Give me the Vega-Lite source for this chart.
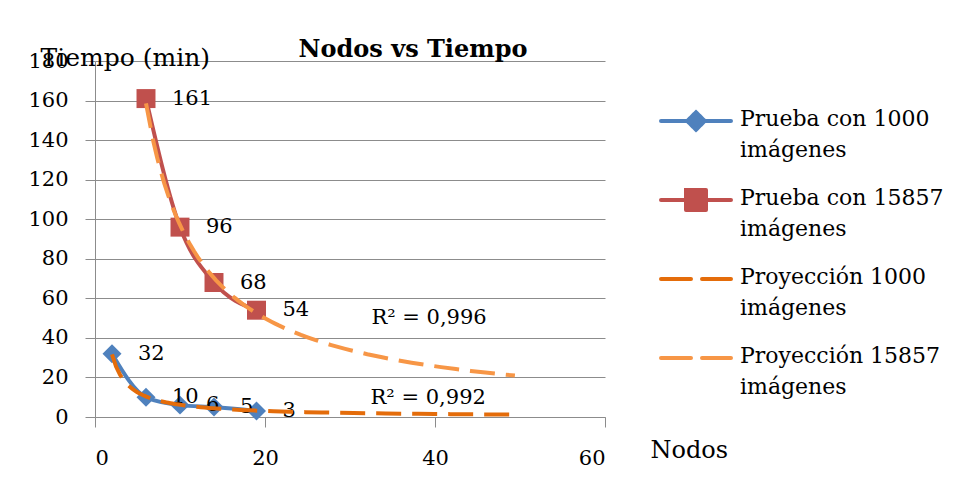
{
  "$schema": "https://vega.github.io/schema/vega-lite/v6.json",
  "width": 510,
  "height": 356,
  "autosize": {"type": "none"},
  "padding": {"left": 95, "top": 61, "right": 351, "bottom": 64},
  "background": "white",
  "config": {"view": {"stroke": null}},
  "title": {"text": "Nodos vs Tiempo", "font": "DejaVu Serif", "fontSize": 24, "fontWeight": "bold", "color": "#000000", "anchor": "middle", "frame": "group", "dx": 63, "baseline": "bottom", "offset": -41},
  "datasets": {
    "pruebas": [
      {"serie": "Prueba con 1000 imágenes", "proy": "Proyección 1000 imágenes", "nodos": 2, "tiempo": 32},
      {"serie": "Prueba con 1000 imágenes", "proy": "Proyección 1000 imágenes", "nodos": 6, "tiempo": 10},
      {"serie": "Prueba con 1000 imágenes", "proy": "Proyección 1000 imágenes", "nodos": 10, "tiempo": 6},
      {"serie": "Prueba con 1000 imágenes", "proy": "Proyección 1000 imágenes", "nodos": 14, "tiempo": 5},
      {"serie": "Prueba con 1000 imágenes", "proy": "Proyección 1000 imágenes", "nodos": 19, "tiempo": 3},
      {"serie": "Prueba con 15857 imágenes", "proy": "Proyección 15857 imágenes", "nodos": 6, "tiempo": 161},
      {"serie": "Prueba con 15857 imágenes", "proy": "Proyección 15857 imágenes", "nodos": 10, "tiempo": 96},
      {"serie": "Prueba con 15857 imágenes", "proy": "Proyección 15857 imágenes", "nodos": 14, "tiempo": 68},
      {"serie": "Prueba con 15857 imágenes", "proy": "Proyección 15857 imágenes", "nodos": 19, "tiempo": 54}
    ],
    "r2": [
      {"nodos": 39.3, "tiempo": 50, "texto": "R² = 0,996"},
      {"nodos": 39.2, "tiempo": 9.6, "texto": "R² = 0,992"}
    ]
  },
  "encoding": {
    "x": {"field": "nodos", "type": "quantitative",
      "scale": {"domain": [0, 60], "nice": false, "zero": false},
      "axis": {"values": [0, 20, 40, 60], "grid": false, "domainColor": "#8c8c8c", "tickColor": "#8c8c8c", "tickSize": 10, "labelPadding": 20, "labelOverlap": false,
        "labelFont": "DejaVu Serif", "labelFontSize": 21, "labelColor": "#000000",
        "title": "Nodos", "titleFont": "DejaVu Serif", "titleFontSize": 24, "titleFontWeight": "normal", "titleColor": "#000000",
        "titleAlign": "left", "titleBaseline": "middle", "titleX": 555, "titleY": 33}},
    "y": {"field": "tiempo", "type": "quantitative",
      "scale": {"domain": [0, 180], "nice": false},
      "axis": {"values": [0, 20, 40, 60, 80, 100, 120, 140, 160, 180], "grid": true, "gridColor": "#8c8c8c", "domainColor": "#8c8c8c", "tickColor": "#8c8c8c", "tickSize": 10, "labelPadding": 17, "labelOverlap": false, "labelFlush": false,
        "labelFont": "DejaVu Serif", "labelFontSize": 21, "labelColor": "#000000",
        "title": "Tiempo (min)", "titleFont": "DejaVu Serif", "titleFontSize": 25, "titleFontWeight": "normal", "titleColor": "#000000",
        "titleAngle": 0, "titleAlign": "left", "titleBaseline": "middle", "titleX": -55, "titleY": -4}}
  },
  "layer": [
    {
      "data": {"name": "pruebas"},
      "mark": {"type": "line", "interpolate": "monotone", "strokeWidth": 4, "strokeCap": "round"},
      "encoding": {
        "color": {"field": "serie", "type": "nominal",
          "scale": {"domain": ["Prueba con 1000 imágenes", "Prueba con 15857 imágenes", "Proyección 1000 imágenes", "Proyección 15857 imágenes"],
                    "range": ["#4F81BD", "#C0504D", "#E46C0A", "#F79646"]},
          "legend": {"title": null, "orient": "none", "legendX": 574, "legendY": 33, "direction": "vertical",
            "symbolSize": 2500, "symbolStrokeWidth": 4, "labelFont": "DejaVu Serif", "labelFontSize": 22, "labelColor": "#000000",
            "labelOffset": 17, "rowPadding": 12, "labelBaseline": "top", "labelLimit": 300,
            "labelExpr": "[replace(datum.label, ' imágenes', ''), 'imágenes']",
            "encode": {
              "labels": {"update": {"dy": {"value": -12}, "lineHeight": {"value": 31}}},
              "symbols": {"update": {
              "shape": {"signal": "datum.value == 'Prueba con 1000 imágenes' ? 'M-1.4,0H1.4M0,-0.35L0.35,0L0,0.35L-0.35,0Z' : (datum.value == 'Prueba con 15857 imágenes' ? 'M-1.4,0H1.4M-0.4,-0.4H0.4V0.4H-0.4Z' : 'M-1.4,0H1.4')"},
              "strokeDash": {"signal": "indexof(datum.value, 'Proyecc') == 0 ? [30, 11] : [1, 0]"},
              "fill": {"scale": "color", "field": "value"},
              "stroke": {"scale": "color", "field": "value"},
              "strokeWidth": {"value": 4},
              "strokeCap": {"value": "round"},
              "opacity": {"value": 1}
            }}}}
        }
      }
    },
    {
      "data": {"name": "pruebas"},
      "mark": {"type": "point", "filled": true, "opacity": 1, "size": 360},
      "encoding": {
        "color": {"field": "serie", "type": "nominal", "legend": null},
        "shape": {"field": "serie", "type": "nominal", "scale": {"domain": ["Prueba con 1000 imágenes", "Prueba con 15857 imágenes"], "range": ["diamond", "square"]}, "legend": null}
      }
    },
    {
      "data": {"name": "pruebas"},
      "mark": {"type": "text", "align": "left", "baseline": "middle", "dx": 26, "font": "DejaVu Serif", "fontSize": 21, "color": "#000000"},
      "encoding": {
        "text": {"field": "tiempo", "type": "quantitative"}
      }
    },
    {
      "data": {"name": "pruebas"},
      "transform": [
        {"filter": "datum.serie == 'Prueba con 1000 imágenes'"},
        {"regression": "tiempo", "on": "nodos", "method": "pow", "groupby": ["proy"], "extent": [2, 49.4]}
      ],
      "mark": {"type": "line", "strokeWidth": 4},
      "encoding": {
        "color": {"field": "proy", "type": "nominal", "legend": null},
        "strokeDash": {"field": "proy", "type": "nominal", "scale": {"domain": ["Proyección 1000 imágenes", "Proyección 15857 imágenes"], "range": [[25, 11], [25, 11]]}, "legend": null}
      }
    },
    {
      "data": {"name": "pruebas"},
      "transform": [
        {"filter": "datum.serie == 'Prueba con 15857 imágenes'"},
        {"regression": "tiempo", "on": "nodos", "method": "pow", "groupby": ["proy"], "extent": [6, 49.4]}
      ],
      "mark": {"type": "line", "strokeWidth": 4},
      "encoding": {
        "color": {"field": "proy", "type": "nominal", "legend": null},
        "strokeDash": {"field": "proy", "type": "nominal", "legend": null}
      }
    },
    {
      "data": {"name": "r2"},
      "mark": {"type": "text", "align": "center", "baseline": "middle", "font": "DejaVu Serif", "fontSize": 21, "color": "#000000"},
      "encoding": {
        "text": {"field": "texto", "type": "nominal"}
      }
    }
  ]
}
